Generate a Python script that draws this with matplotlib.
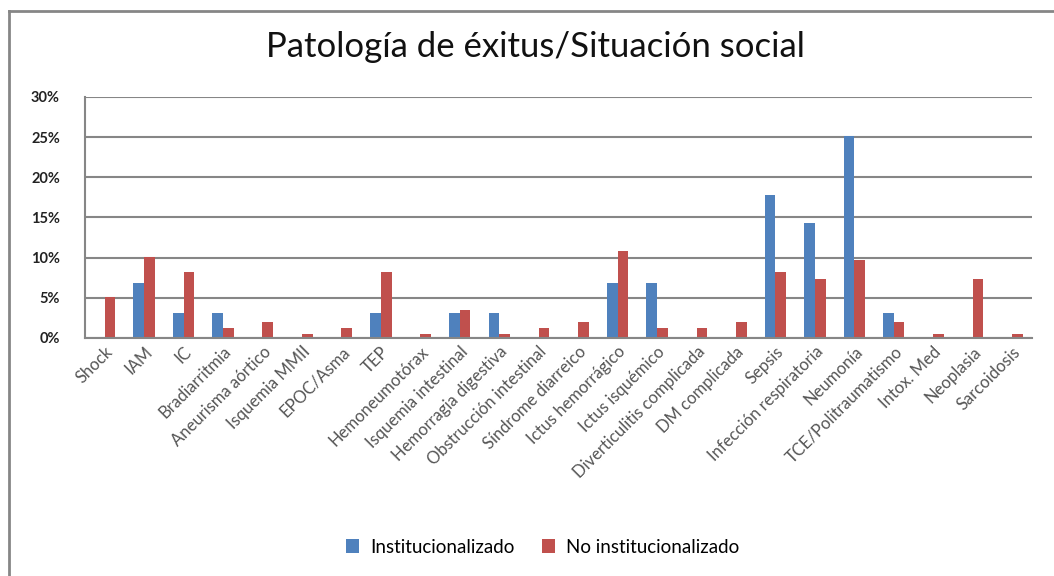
import numpy as np
import matplotlib.pyplot as plt
from matplotlib.lines import Line2D
from matplotlib.ticker import FuncFormatter

categories = [
    "Shock", "IAM", "IC", "Bradiarritmia", "Aneurisma aórtico", "Isquemia MMII",
    "EPOC/Asma", "TEP", "Hemoneumotórax", "Isquemia intestinal",
    "Hemorragia digestiva", "Obstrucción intestinal", "Síndrome diarreico",
    "Ictus hemorrágico", "Ictus isquémico", "Diverticulitis complicada",
    "DM complicada", "Sepsis", "Infección respiratoria", "Neumonía",
    "TCE/Politraumatismo", "Intox. Med", "Neoplasia", "Sarcoidosis",
]

institucionalizado = [0, 6.9, 3.1, 3.1, 0, 0, 0, 3.1, 0, 3.1, 3.1, 0, 0,
                      6.9, 6.9, 0, 0, 17.8, 14.3, 25.2, 3.1, 0, 0, 0]
no_institucionalizado = [5.1, 10.1, 8.2, 1.2, 2.0, 0.5, 1.2, 8.2, 0.5, 3.5, 0.5, 1.2, 2.0,
                         10.8, 1.2, 1.2, 2.0, 8.2, 7.3, 9.7, 2.0, 0.5, 7.3, 0.5]

series_names = ["Institucionalizado", "No institucionalizado"]
colors = ["#4F81BD", "#C0504D"]
grey = "#868686"

plt.rcParams['font.family'] = ['Lato', 'DejaVu Sans']

fig = plt.figure(figsize=(10.54, 5.76), dpi=100)
ax = fig.add_axes([0.0806, 0.4132, 0.8984, 0.4184])

x = np.arange(len(categories))
w = 0.27
ax.bar(x - w / 2, institucionalizado, w, color=colors[0], label=series_names[0], zorder=3)
ax.bar(x + w / 2, no_institucionalizado, w, color=colors[1], label=series_names[1], zorder=3)

ax.set_xlim(-0.5, len(categories) - 0.5)
ax.set_ylim(0, 30)
ax.set_yticks(np.arange(0, 31, 5))
ax.yaxis.set_major_formatter(FuncFormatter(lambda v, p: f"{v:.0f}%"))
ax.grid(axis="y", color=grey, linewidth=1.5, zorder=0)

for s in ["top", "right"]:
    ax.spines[s].set_visible(False)
for s in ["left", "bottom"]:
    ax.spines[s].set_color(grey)
    ax.spines[s].set_linewidth(1.5)
    ax.spines[s].set_zorder(4)

ax.tick_params(axis="y", length=0, pad=18, labelsize=10.5, labelcolor="#222222")
for t in ax.get_yticklabels():
    t.set_fontweight("bold")
ax.tick_params(axis="x", length=0, pad=4, labelsize=12, labelcolor="#555555")
ax.set_xticks(x)
ax.set_xticklabels(categories, rotation=45, ha="right", rotation_mode="anchor")

fig.text(0.508, 0.918, "Patología de éxitus/Situación social", ha="center", va="center",
         fontsize=25, color="#111111")

ax.legend(loc="center", bbox_to_anchor=(0.515, 0.05), bbox_transform=fig.transFigure,
          ncol=2, frameon=False, fontsize=13.5, handlelength=0.65, handleheight=0.75,
          columnspacing=1.5, handletextpad=0.6)

# chart area border (cropped: only top and left edges visible)
fig.add_artist(Line2D([0.0085, 1.0], [0.981, 0.981], transform=fig.transFigure,
                      color=grey, linewidth=2))
fig.add_artist(Line2D([0.0085, 0.0085], [0.0, 0.981], transform=fig.transFigure,
                      color=grey, linewidth=2))

fig.savefig("out.png", dpi=100)
